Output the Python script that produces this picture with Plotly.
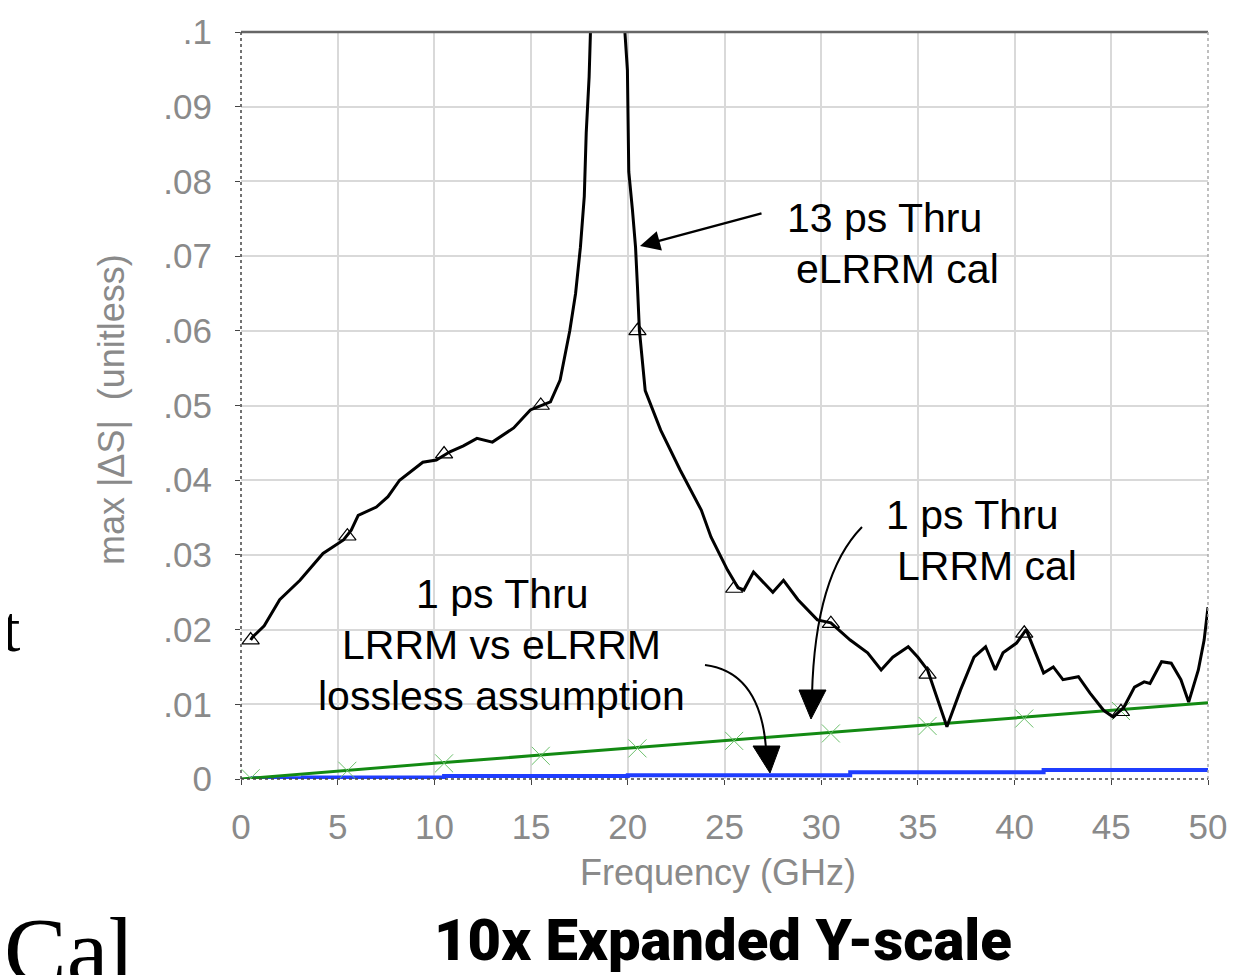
import plotly.graph_objects as go

# ---------------- data ----------------
freq_13ps = [0.5, 0.6, 1.2, 2.0, 3.05, 3.6, 4.24, 5.3, 5.7, 6.06, 7.0, 7.6, 8.2, 9.4, 10.1, 10.8,
             11.5, 12.2, 13.0, 14.1, 14.96, 16.0, 16.5, 17.0, 17.3, 17.55, 17.75, 17.85, 18.0,
             18.3, 18.9, 19.5, 19.85, 19.98, 20.05, 20.24, 20.4, 20.5, 20.6, 20.9, 21.7, 22.7,
             23.8, 24.3, 25.15, 25.7, 26.0, 26.5, 27.5, 28.05, 28.8, 29.8, 30.5, 31.5, 32.4,
             33.1, 33.7, 34.5, 35.0, 35.5, 35.8, 36.5, 37.2, 37.9, 38.5, 39.0, 39.4, 40.1, 40.6,
             41.0, 41.5, 42.0, 42.5, 43.3, 43.9, 44.6, 45.1, 45.65, 46.2, 46.7, 47.0, 47.6, 48.1,
             48.6, 49.0, 49.5, 49.8, 50.0]
ds_13ps = [0.0186, 0.0190, 0.0205, 0.0240, 0.0266, 0.0282, 0.0302, 0.0320, 0.0333, 0.0353,
           0.0364, 0.0378, 0.0400, 0.0424, 0.0427, 0.0438, 0.0446, 0.0456, 0.0451, 0.0470,
           0.0494, 0.0505, 0.0534, 0.0600, 0.0650, 0.0712, 0.0780, 0.0865, 0.0940, 0.1200,
           0.2000, 0.1400, 0.1000, 0.0949, 0.0813, 0.0762, 0.0712, 0.0659, 0.0601, 0.0520,
           0.0467, 0.0414, 0.0360, 0.0324, 0.0280, 0.0256, 0.0253, 0.0277, 0.0250, 0.0266,
           0.0240, 0.0213, 0.0209, 0.0186, 0.0169, 0.0146, 0.0163, 0.0177, 0.0163, 0.0146,
           0.0123, 0.0070, 0.0119, 0.0163, 0.0177, 0.0146, 0.0169, 0.0182, 0.0200, 0.0173,
           0.0142, 0.0150, 0.0133, 0.0137, 0.0115, 0.0092, 0.0083, 0.0096, 0.0123, 0.0130,
           0.0128, 0.0157, 0.0155, 0.0133, 0.0103, 0.0146, 0.0186, 0.0230]
mark_x_13ps = [0.5, 5.5, 10.5, 15.5, 20.5, 25.5, 30.5, 35.5, 40.5, 45.5]
mark_y_13ps = [0.0186, 0.0325, 0.0435, 0.0500, 0.0600, 0.0255, 0.0208, 0.0140, 0.0195, 0.0090]

freq_1ps = [0, 5, 10, 15, 20, 25, 30, 35, 40, 45, 50]
ds_1ps = [0.0000, 0.0011, 0.0021, 0.0031, 0.0041, 0.0052, 0.0062, 0.0072, 0.0082, 0.0091, 0.0102]
mark_x_1ps = [0.5, 5.5, 10.5, 15.5, 20.5, 25.5, 30.5, 35.5, 40.5, 45.5]
mark_y_1ps = [0.0001, 0.0011, 0.0021, 0.0031, 0.0041, 0.0051, 0.0061, 0.0071, 0.0081, 0.0091]

freq_lossless = [0.5, 3.2, 10.5, 20.0, 31.5, 41.5, 50.0]
ds_lossless = [0.0001, 0.0002, 0.0004, 0.0005, 0.0009, 0.0012, 0.0012]

x_ticks = [0, 5, 10, 15, 20, 25, 30, 35, 40, 45, 50]
x_tick_text = ["0", "5", "10", "15", "20", "25", "30", "35", "40", "45", "50"]
y_ticks = [0, 0.01, 0.02, 0.03, 0.04, 0.05, 0.06, 0.07, 0.08, 0.09, 0.1]
y_tick_text = ["0", ".01", ".02", ".03", ".04", ".05", ".06", ".07", ".08", ".09", ".1"]

# ---------------- layout geometry ----------------
W, H = 1246, 975
OFF = 8                          # default page body margin
L, R, T, B = 241, 1208, 32, 779  # plot area in reference pixels
XMAX, YMAX = 50.0, 0.1


def X(px):
    return (px - L) / (R - L) * XMAX


def Y(py):
    return (B - py) / (B - T) * YMAX


def PX(px):
    return (px - L) / (R - L)


def PY(py):
    return (B - py) / (B - T)


fig = go.Figure()

fig.add_trace(go.Scatter(x=freq_lossless, y=ds_lossless, mode="lines", line_shape="hv",
                         line=dict(color="#1f3dff", width=4), showlegend=False, hoverinfo="skip"))
fig.add_trace(go.Scatter(x=freq_1ps, y=ds_1ps, mode="lines",
                         line=dict(color="#138a13", width=3), showlegend=False, hoverinfo="skip"))
fig.add_trace(go.Scatter(x=mark_x_1ps, y=mark_y_1ps, mode="markers",
                         marker=dict(symbol="x-thin-open", size=18, color="#6cc06c",
                                     line=dict(color="#6cc06c", width=1)),
                         showlegend=False, hoverinfo="skip"))
fig.add_trace(go.Scatter(x=freq_13ps, y=ds_13ps, mode="lines",
                         line=dict(color="black", width=3), showlegend=False, hoverinfo="skip"))
fig.add_trace(go.Scatter(x=mark_x_13ps, y=mark_y_13ps, mode="markers",
                         marker=dict(symbol="triangle-up-open", size=15, color="black",
                                     line=dict(color="black", width=1.2)),
                         showlegend=False, hoverinfo="skip"))

tick_font = dict(family="Liberation Sans", size=35, color="#8a8a8a")

fig.update_xaxes(range=[0, XMAX], tickvals=x_ticks, ticktext=x_tick_text, tickfont=tick_font,
                 showgrid=True, gridcolor="#d9d9d9", gridwidth=1.5, zeroline=False,
                 ticks="outside", ticklen=5, tickcolor="#444", ticklabelstandoff=12,
                 showline=False, automargin=False)
fig.update_yaxes(range=[0, YMAX], tickvals=y_ticks, ticktext=y_tick_text, tickfont=tick_font,
                 showgrid=True, gridcolor="#d9d9d9", gridwidth=1.5, zeroline=False,
                 ticks="outside", ticklen=5, tickcolor="#444", ticklabelstandoff=16,
                 showline=False, automargin=False)

shapes = [
    # plot borders
    dict(type="line", xref="paper", yref="paper", x0=0, x1=1, y0=1, y1=1,
         line=dict(color="#666", width=2.5)),
    dict(type="line", xref="paper", yref="paper", x0=0, x1=0, y0=0, y1=1,
         line=dict(color="#444", width=1.5, dash="dot")),
    dict(type="line", xref="paper", yref="paper", x0=1, x1=1, y0=0, y1=1,
         line=dict(color="#aaa", width=1.5, dash="dot")),
    dict(type="line", xref="paper", yref="paper", x0=0, x1=1, y0=0, y1=0,
         line=dict(color="#444", width=1.5, dash="dot")),
    # curved arrow: "1 ps Thru LRRM cal"
    dict(type="path", xref="x", yref="y",
         path=f"M {X(862)},{Y(527)} Q {X(815)},{Y(575)} {X(812)},{Y(695)}",
         line=dict(color="black", width=2)),
    dict(type="path", xref="x", yref="y",
         path=f"M {X(799)},{Y(690)} L {X(826)},{Y(690)} L {X(811)},{Y(719)} Z",
         fillcolor="black", line=dict(color="black", width=1)),
    # curved arrow: "LRRM vs eLRRM lossless assumption"
    dict(type="path", xref="x", yref="y",
         path=f"M {X(705)},{Y(665)} Q {X(760)},{Y(672)} {X(766)},{Y(748)}",
         line=dict(color="black", width=2)),
    dict(type="path", xref="x", yref="y",
         path=f"M {X(753)},{Y(746)} L {X(780)},{Y(746)} L {X(770)},{Y(773)} Z",
         fillcolor="black", line=dict(color="black", width=1)),
]

label_font = dict(family="Liberation Sans", size=41, color="black")


def label(text, px, py):
    return dict(text=text, x=X(px), y=Y(py), xref="x", yref="y", showarrow=False,
                xanchor="center", yanchor="middle", font=label_font)


annotations = [
    label("13 ps Thru", 884, 218),
    label("eLRRM cal", 897, 269),
    label("1 ps Thru", 972, 515),
    label("LRRM cal", 987, 566),
    label("1 ps Thru", 502, 594),
    label("LRRM vs eLRRM", 501, 645),
    label("lossless assumption", 501, 696),
    # straight arrow to the 13 ps curve
    dict(text="", x=X(640), y=Y(246), xref="x", yref="y", showarrow=True,
         ax=X(763), ay=Y(213), axref="x", ayref="y",
         arrowhead=2, arrowsize=1.6, arrowwidth=2.5, arrowcolor="black"),
    # axis titles
    dict(text="max |ΔS|  (unitless)", x=PX(111), y=PY(410), xref="paper", yref="paper",
         showarrow=False, textangle=-90, xanchor="center", yanchor="middle",
         font=dict(family="Liberation Sans", size=36, color="#8a8a8a")),
    dict(text="Frequency (GHz)", x=PX(718), y=PY(872), xref="paper", yref="paper",
         showarrow=False, xanchor="center", yanchor="middle",
         font=dict(family="Liberation Sans", size=36, color="#8a8a8a")),
    # slide caption and fragments
    dict(text="10x Expanded Y-scale", x=PX(723), y=PY(940), xref="paper", yref="paper",
         showarrow=False, xanchor="center", yanchor="middle",
         font=dict(family="Roboto", size=58, color="black", weight=900)),
    dict(text="t", x=PX(0), y=PY(628), xref="paper", yref="paper", showarrow=False,
         xanchor="left", yanchor="middle",
         font=dict(family="Liberation Serif", size=66, color="black")),
    dict(text="Cal", x=PX(2), y=PY(950), xref="paper", yref="paper", showarrow=False,
         xanchor="left", yanchor="middle",
         font=dict(family="Liberation Serif", size=94, color="black")),
]

fig.update_layout(
    width=W, height=H, autosize=False,
    margin=dict(l=L - OFF, r=W - R + OFF, t=T - OFF, b=H - B + OFF, pad=0, autoexpand=False),
    paper_bgcolor="white", plot_bgcolor="white",
    shapes=shapes, annotations=annotations, showlegend=False,
)

fig.write_html("out.html", config={"displayModeBar": False})
